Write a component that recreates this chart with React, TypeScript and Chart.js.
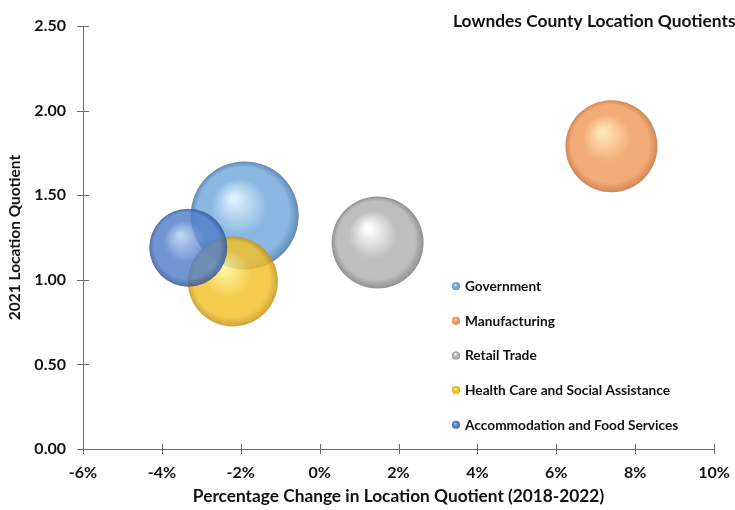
import React, { useEffect, useRef } from 'react';
import { Chart, registerables } from 'chart.js';

Chart.register(...registerables);

// ---------- data ----------
const seriesNames = [
  'Government',
  'Manufacturing',
  'Retail Trade',
  'Health Care and Social Assistance',
  'Accommodation and Food Services',
];
const pctChange = [-1.9, 7.4, 1.47, -2.2, -3.33]; // % change in LQ 2018-2022
const lq2021 = [1.38, 1.79, 1.22, 0.99, 1.19];
const bubbleSize = [54, 46, 46, 45, 39];
const xTickValues = [-6, -4, -2, 0, 2, 4, 6, 8, 10];
const yTickValues = [0, 0.5, 1, 1.5, 2, 2.5];
const chartTitle = 'Lowndes County Location Quotients';
const xAxisTitle = 'Percentage Change in Location Quotient (2018-2022)';
const yAxisTitle = '2021 Location Quotient';

// ---------- styles ----------
type RGB = [number, number, number];
const palette: { light: RGB; base: RGB; dark: RGB }[] = [
  { light: [212, 236, 252], base: [112, 168, 218], dark: [66, 114, 164] },
  { light: [255, 226, 168], base: [240, 152, 88], dark: [198, 108, 48] },
  { light: [255, 255, 255], base: [176, 176, 176], dark: [120, 120, 120] },
  { light: [255, 244, 145], base: [243, 192, 38], dark: [194, 144, 14] },
  { light: [172, 202, 240], base: [82, 126, 202], dark: [48, 80, 150] },
];
const ALPHA = 0.82;
const FONT = "Lato, 'Open Sans', sans-serif";
const AXIS_COLOR = '#6b6b6b';
const TEXT_COLOR = '#111111';

const rgba = (c: RGB, a: number) => `rgba(${c[0]},${c[1]},${c[2]},${a})`;

function sphere(ctx2d: CanvasRenderingContext2D, cx: number, cy: number, r: number, p: { light: RGB; base: RGB; dark: RGB }, a: number) {
  const g = ctx2d.createRadialGradient(cx - r * 0.2, cy - r * 0.32, r * 0.05, cx, cy, r);
  g.addColorStop(0, rgba(p.light, a));
  g.addColorStop(0.5, rgba(p.base, a));
  g.addColorStop(0.84, rgba(p.base, a));
  g.addColorStop(1, rgba(p.dark, a));
  return g;
}

function sphereFill(i: number) {
  return (c: any) => {
    const chart = c.chart;
    const raw = c.raw;
    const p = palette[i];
    if (!raw || !chart.scales || !chart.scales.x || !chart.scales.y) return rgba(p.base, ALPHA);
    const cx = chart.scales.x.getPixelForValue(raw.x);
    const cy = chart.scales.y.getPixelForValue(raw.y);
    const r = raw.r;
    if (![cx, cy, r].every((v) => Number.isFinite(v)) || r <= 0) return rgba(p.base, ALPHA);
    return sphere(chart.ctx, cx, cy, r, p, ALPHA);
  };
}

const decorPlugin = {
  id: 'decor',
  afterDraw(chart: any) {
    const ctx: CanvasRenderingContext2D = chart.ctx;
    const xs = chart.scales.x;
    const ys = chart.scales.y;
    const area = chart.chartArea;
    ctx.save();
    // cross tick marks
    ctx.strokeStyle = AXIS_COLOR;
    ctx.lineWidth = 1;
    ctx.beginPath();
    ys.ticks.forEach((_t: any, i: number) => {
      const y = Math.round(ys.getPixelForTick(i)) + 0.5;
      ctx.moveTo(area.left - 6, y);
      ctx.lineTo(area.left + 6, y);
    });
    xs.ticks.forEach((_t: any, i: number) => {
      const x = Math.round(xs.getPixelForTick(i)) + 0.5;
      ctx.moveTo(x, area.bottom - 5);
      ctx.lineTo(x, area.bottom + 5);
    });
    ctx.stroke();

    // chart title
    ctx.fillStyle = TEXT_COLOR;
    ctx.font = `bold 17.4px ${FONT}`;
    ctx.textAlign = 'left';
    ctx.textBaseline = 'middle';
    ctx.fillText(chartTitle, 453, 21);

    // legend
    ctx.font = `bold 13.7px ${FONT}`;
    chart.data.datasets.forEach((ds: any, i: number) => {
      const y = 286 + i * 34.7;
      const mx = 456;
      const r = 4;
      ctx.beginPath();
      ctx.arc(mx, y, r, 0, Math.PI * 2);
      ctx.fillStyle = sphere(ctx, mx, y, r, palette[i], 1);
      ctx.fill();
      ctx.fillStyle = TEXT_COLOR;
      ctx.fillText(ds.label, 465, y + 0.5);
    });
    ctx.restore();
  },
};

export default function App() {
  const ref = useRef<HTMLCanvasElement | null>(null);

  useEffect(() => {
    if (!ref.current) return;
    const order = [4, 3, 2, 1, 0];
    const chart = new Chart(ref.current, {
      type: 'bubble',
      data: {
        datasets: seriesNames.map((name, i) => ({
          label: name,
          data: [{ x: pctChange[i], y: lq2021[i], r: bubbleSize[i] }],
          backgroundColor: sphereFill(i),
          borderWidth: 0,
          borderColor: 'rgba(0,0,0,0)',
          order: order[i],
          clip: false as any,
        })),
      },
      options: {
        animation: false,
        responsive: false,
        events: [],
        layout: { autoPadding: false, padding: { top: 26, right: 21, left: 0, bottom: 0 } },
        plugins: {
          legend: { display: false },
          tooltip: { enabled: false },
          title: { display: false },
        },
        scales: {
          x: {
            type: 'linear',
            min: -6,
            max: 10,
            afterBuildTicks: (s: any) => {
              s.ticks = xTickValues.map((v) => ({ value: v }));
            },
            afterFit: (s: any) => {
              s.height = 61;
              s.paddingLeft = 0;
              s.paddingRight = 0;
            },
            grid: { display: false, drawTicks: false },
            border: { display: true, color: AXIS_COLOR, width: 1 },
            ticks: {
              padding: 14,
              color: TEXT_COLOR,
              font: { family: FONT, size: 16, weight: 'bold' },
              callback: (v: any) => `${v}%`,
              maxRotation: 0,
            },
            title: {
              display: true,
              text: xAxisTitle,
              color: TEXT_COLOR,
              font: { family: FONT, size: 17.3, weight: 'bold' },
              padding: { top: 0, bottom: 3 },
            },
          },
          y: {
            type: 'linear',
            min: 0,
            max: 2.5,
            afterBuildTicks: (s: any) => {
              s.ticks = yTickValues.map((v) => ({ value: v }));
            },
            afterFit: (s: any) => {
              s.width = 83;
              s.paddingTop = 0;
              s.paddingBottom = 0;
            },
            grid: { display: false, drawTicks: false },
            border: { display: true, color: AXIS_COLOR, width: 1 },
            ticks: {
              padding: 17,
              color: TEXT_COLOR,
              font: { family: FONT, size: 16, weight: 'bold' },
              callback: (v: any) => Number(v).toFixed(2),
            },
            title: {
              display: true,
              text: yAxisTitle,
              color: TEXT_COLOR,
              font: { family: FONT, size: 15.5, weight: 'bold' },
              padding: { top: 6, bottom: 0 },
            },
          },
        },
      } as any,
      plugins: [decorPlugin],
    });
    return () => chart.destroy();
  }, []);

  return (
    <div style={{ position: 'fixed', left: 0, top: 0, width: 735, height: 510, background: '#fff' }}>
      <canvas ref={ref} width={735} height={510} style={{ display: 'block' }} />
    </div>
  );
}
